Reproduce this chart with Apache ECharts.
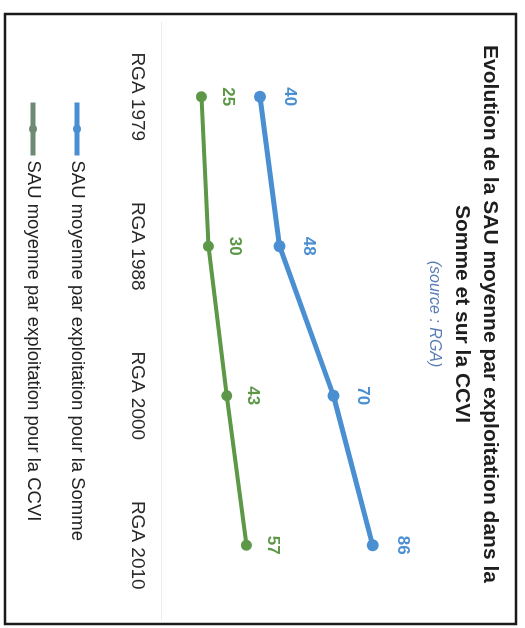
<!DOCTYPE html>
<html>
<head>
<meta charset="utf-8">
<script src="https://cdn.jsdelivr.net/npm/echarts@6/dist/echarts.min.js"></script>
<style>
  html, body { margin: 0; padding: 0; background: #ffffff; }
  #wrap { position: relative; width: 525px; height: 628px; overflow: hidden; background: #ffffff; }
  /* The reference chart is printed rotated a quarter turn clockwise */
  #chart { position: absolute; left: 0; top: 0; width: 628px; height: 525px;
           transform-origin: 0 0; transform: translateX(525px) rotate(90deg); }
</style>
</head>
<body>
<div id="wrap"><div id="chart"></div></div>
<script>
// ---- data ----
const categories = ['RGA 1979', 'RGA 1988', 'RGA 2000', 'RGA 2010'];
const sommeValues = [40, 48, 70, 86];
const ccviValues = [25, 30, 43, 57];
const seriesNames = [
  'SAU moyenne par exploitation pour la Somme',
  'SAU moyenne par exploitation pour la CCVI'
];
const titleLines = [
  'Evolution de la SAU moyenne par exploitation dans la',
  'Somme et sur la CCVI'
];
const sourceText = '(source : RGA)';

// ---- styles ----
const BLUE = '#4a8fd1';
const GREEN = '#5c9848';
const LEGEND_GREEN = '#6e8a75';
const FONT = '"Liberation Sans", Arial, sans-serif';

const chart = echarts.init(document.getElementById('chart'), null, { renderer: 'canvas' });

const titleStyle = { fontFamily: FONT, fontSize: 21, fontWeight: 'bold', color: '#1e1e1e' };

chart.setOption({
  animation: false,
  backgroundColor: '#ffffff',
  title: [
    { text: titleLines[0], left: 'center', top: 20, padding: [5, 5, 5, 23], textStyle: titleStyle },
    { text: titleLines[1], left: 'center', top: 48, padding: [5, 5, 5, 21], textStyle: titleStyle },
    {
      text: sourceText, left: 'center', top: 78, padding: [5, 5, 5, 19],
      textStyle: { fontFamily: FONT, fontSize: 16, fontStyle: 'italic', fontWeight: 'normal', color: '#5a7db5' }
    }
  ],
  legend: {
    orient: 'vertical',
    left: 95,
    top: 433,
    itemWidth: 53,
    itemHeight: 10,
    itemGap: 24,
    textStyle: { fontFamily: FONT, fontSize: 18.5, color: '#222222', lineHeight: 20 },
    data: [
      { name: seriesNames[0], itemStyle: { color: BLUE }, lineStyle: { color: BLUE, width: 5 } },
      { name: seriesNames[1], itemStyle: { color: LEGEND_GREEN }, lineStyle: { color: LEGEND_GREEN, width: 5 } }
    ]
  },
  graphic: [{
    type: 'rect',
    shape: { x: 14, y: 9, width: 610, height: 511 },
    style: { fill: 'none', stroke: '#1a1a1a', lineWidth: 2.5 },
    silent: true,
    z: 100
  }],
  grid: { left: 22, right: 8, top: 118, bottom: 162, containLabel: false },
  xAxis: {
    type: 'category',
    data: categories,
    boundaryGap: true,
    axisLine: { show: true, lineStyle: { color: '#ececec', width: 1 } },
    axisTick: { show: false },
    splitLine: { show: false },
    axisLabel: { fontFamily: FONT, fontSize: 19, color: '#2a2a2a', margin: 15 }
  },
  yAxis: [
    { type: 'value', min: 0, max: 100, show: false, splitLine: { show: false } },
    { type: 'value', min: -3, max: 171, show: false, splitLine: { show: false } }
  ],
  series: [
    {
      name: seriesNames[0],
      type: 'line',
      data: sommeValues,
      yAxisIndex: 0,
      symbol: 'circle',
      symbolSize: 12,
      lineStyle: { color: BLUE, width: 5 },
      itemStyle: { color: BLUE },
      label: {
        show: true, position: 'top', distance: 15,
        fontFamily: FONT, fontSize: 17, fontWeight: 'bold', color: BLUE
      }
    },
    {
      name: seriesNames[1],
      type: 'line',
      data: ccviValues,
      yAxisIndex: 1,
      symbol: 'circle',
      symbolSize: 11,
      lineStyle: { color: GREEN, width: 4 },
      itemStyle: { color: GREEN },
      label: {
        show: true, position: 'top', distance: 12,
        fontFamily: FONT, fontSize: 17, fontWeight: 'bold', color: GREEN
      }
    }
  ]
});
</script>
</body>
</html>
